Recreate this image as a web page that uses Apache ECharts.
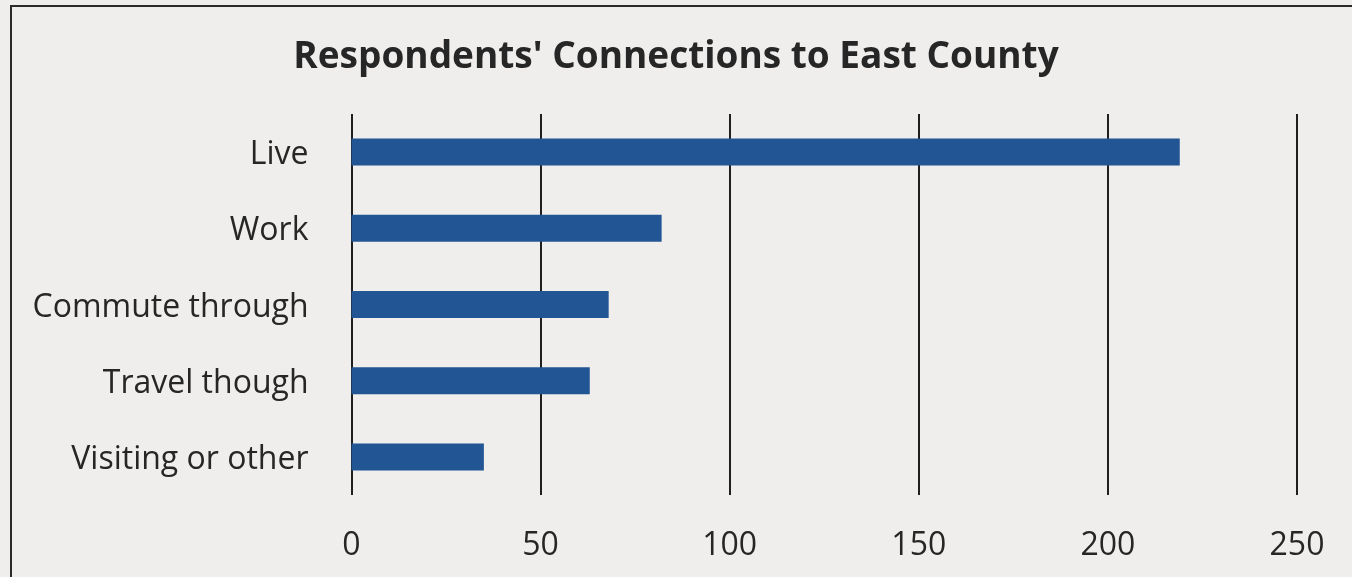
<!DOCTYPE html>
<html>
<head>
<meta charset="utf-8">
<script src="https://cdn.jsdelivr.net/npm/echarts@6/dist/echarts.min.js"></script>
<style>
  html, body { margin: 0; padding: 0; background: #efeeec; }
  #chart { width: 1352px; height: 577px; }
</style>
</head>
<body>
<div id="chart"></div>
<script>
// Connections respondents reported to East County
const categories = ['Live', 'Work', 'Commute through', 'Travel though', 'Visiting or other'];
const counts = [219, 82, 68, 63, 35];
const xTicks = { min: 0, max: 250, interval: 50 };

const FONT = 'Open Sans';
const chart = echarts.init(document.getElementById('chart'), null, { renderer: 'canvas' });

chart.setOption({
  backgroundColor: '#efeeec',
  animation: false,
  title: {
    text: "Respondents' Connections to East County",
    left: 'center',
    top: 34,
    textStyle: { fontFamily: FONT, fontWeight: 'bold', fontSize: 37, color: '#262626' }
  },
  graphic: [{
    type: 'rect',
    shape: { x: 11, y: 6, width: 1400, height: 620 },
    style: { fill: 'none', stroke: '#2a2a2a', lineWidth: 2 },
    silent: true
  }],
  grid: { left: 351.5, right: 55, top: 114, bottom: 82 },
  xAxis: {
    type: 'value',
    min: xTicks.min,
    max: xTicks.max,
    interval: xTicks.interval,
    axisLine: { show: false },
    axisTick: { show: false },
    splitLine: { show: true, lineStyle: { color: '#1f1f1f', width: 2 } },
    axisLabel: { fontFamily: FONT, fontSize: 32, color: '#262626', margin: 35 }
  },
  yAxis: {
    type: 'category',
    data: categories,
    inverse: true,
    axisLine: { show: false },
    axisTick: { show: false },
    axisLabel: {
      margin: 43,
      formatter: (v) => '{c|' + v + '}',
      rich: {
        c: { fontFamily: FONT, fontSize: 32, color: '#262626', padding: [6, 0, 0, 0] }
      }
    }
  },
  series: [{
    type: 'bar',
    data: counts,
    barWidth: 27,
    itemStyle: { color: '#215594' }
  }]
});
</script>
</body>
</html>
